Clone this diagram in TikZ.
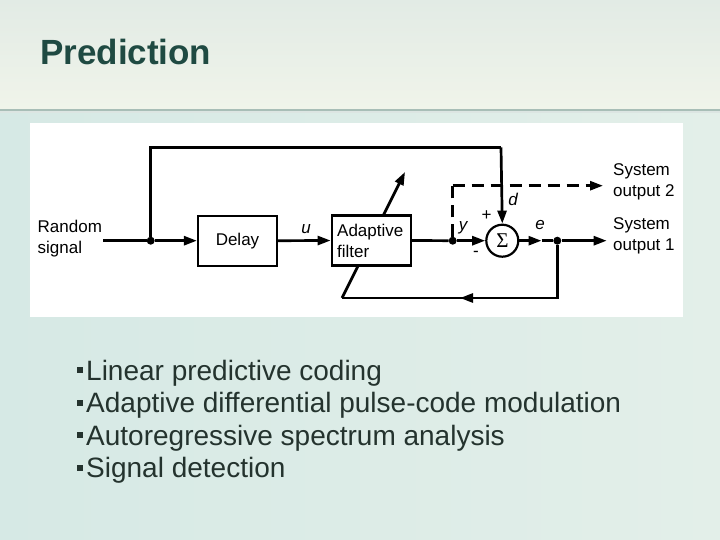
\documentclass[tikz,border=0pt]{standalone}
\usepackage{fontspec}
\setmainfont{Liberation Sans}
\newfontfamily\sigfont{Liberation Serif}
\usetikzlibrary{arrows.meta,calc}
\definecolor{titlecol}{HTML}{1F4A42}
\definecolor{bodycol}{HTML}{24332E}
\definecolor{hdrtop}{HTML}{E2EBE5}
\definecolor{hdrbot}{HTML}{F0F4EA}
\definecolor{bgleft}{HTML}{D6E9E5}
\definecolor{bgright}{HTML}{E3EFE9}
\definecolor{sepcol}{HTML}{A8BEB7}
\tikzset{
  wire/.style={line width=2.7pt},
  dwire/.style={line width=2.7pt, dash pattern=on 12pt off 7pt},
  tip/.style={-{Triangle[length=13pt,width=9pt]}},
  blockbox/.style={draw, line width=2.2pt, fill=white, minimum width=79pt, minimum height=50pt, inner sep=0pt},
  sumnode/.style={draw, circle, line width=2.2pt, fill=white, minimum size=32pt, inner sep=0pt},
  jdot/.style={circle, fill=black, minimum size=8pt, inner sep=0pt},
  dlabel/.style={font=\fontsize{17}{21}\selectfont, inner sep=0pt},
  ilabel/.style={font=\fontsize{17}{21}\selectfont\itshape, inner sep=0pt},
  bullettext/.style={anchor=base west, font=\fontsize{28}{30}\selectfont, text=bodycol, inner sep=0pt},
}
\newcommand{\sqbul}{\rule[0.25em]{6pt}{6pt}\hspace{3pt}}
\begin{document}
\begin{tikzpicture}[x=1pt,y=-1pt]
\useasboundingbox (0,0) rectangle (720,540);
% background
\shade[left color=bgleft, right color=bgright] (0,112) rectangle (720,540);
\shade[top color=hdrtop, bottom color=hdrbot] (0,0) rectangle (720,109);
\fill[sepcol] (0,109) rectangle (720,111.5);
\fill[sepcol!40] (0,111.5) rectangle (720,113);
% title
\node[anchor=base west, inner sep=0pt, font=\fontsize{35}{40}\selectfont\bfseries, text=titlecol] (title) at (40,65) {Prediction};
% diagram panel
\fill[white] (30,123) rectangle (683,317);
% nodes
\node[dlabel, anchor=west, align=left] (rs) at (37.5,238.5) {Random\\signal};
\node[jdot] (j1) at (150.7,240.7) {};
\node[blockbox, dlabel] (delay) at (237.5,240.7) {Delay};
% diagonal adaptation arrow (behind filter box)
\coordinate (fbl) at (342,298);
\coordinate (adtip) at (405,172);
\draw[wire, tip] (fbl) -- (adtip);
\node[blockbox] (filt) at (371.2,240.5) {};
\node[dlabel, anchor=west, align=left] (filttxt) at (337,240.5) {Adaptive\\filter};
\node[jdot] (jy) at (452.7,240.7) {};
\node[sumnode] (sum) at (502.3,240.7) {};
\node[font=\sigfont\fontsize{21}{21}\selectfont, inner sep=0pt] (sigma) at (502.6,240.2) {Σ};
\node[jdot] (je) at (557.3,240.7) {};
\coordinate (o1) at (606.7,240.7);
\coordinate (tl) at (150.7,147.5);
\coordinate (tr) at (501,147.5);
\coordinate (dtl) at (452.7,185.7);
\coordinate (o2) at (603,185.7);
\coordinate (emid) at (541.5,240.7);
\coordinate (fbr) at (557.3,298);
\coordinate (fbmid) at (460,298);
% connectors
\draw[wire] (103,240.7) -- (j1);
\draw[wire, tip] (j1) -- (delay.west);
\draw[wire] (j1) -- (tl) -- (tr);
\draw[wire, tip] (tr) -- (sum.north);
\draw[wire, tip] (delay.east) -- (filt.west);
\draw[wire] (filt.east) -- (jy);
\draw[wire, tip] (jy) -- (sum.west);
\draw[wire, tip] (sum.east) -- (emid);
\draw[wire] (emid) -- (je);
\draw[wire, tip] (je) -- (o1);
\draw[dwire] (jy) -- (dtl);
\draw[dwire, tip] (dtl) -- (o2);
\draw[wire] (je) -- (fbr) -- (fbmid);
\draw[wire, tip] (fbr) -- (fbmid);
\draw[wire] (fbmid) -- (fbl);
% labels
\node[ilabel] (lu) at (306,229) {u};
\node[ilabel] (ly) at (463,228) {y};
\node[ilabel] (ld) at (513,199) {d};
\node[ilabel] (le) at (540,225) {e};
\node[dlabel] (lp) at (486.7,216) {+};
\node[dlabel] (lm) at (476,254) {-};
\node[dlabel, anchor=west, align=left] (out2) at (613,181.5) {System\\output 2};
\node[dlabel, anchor=west, align=left] (out1) at (613,235.5) {System\\output 1};
% bullets
\node[bullettext] (b1) at (77,380) {\sqbul Linear predictive coding};
\node[bullettext] (b2) at (77,412.5) {\sqbul Adaptive differential pulse-code modulation};
\node[bullettext] (b3) at (77,445) {\sqbul Autoregressive spectrum analysis};
\node[bullettext] (b4) at (77,477.5) {\sqbul Signal detection};
\end{tikzpicture}
\end{document}
